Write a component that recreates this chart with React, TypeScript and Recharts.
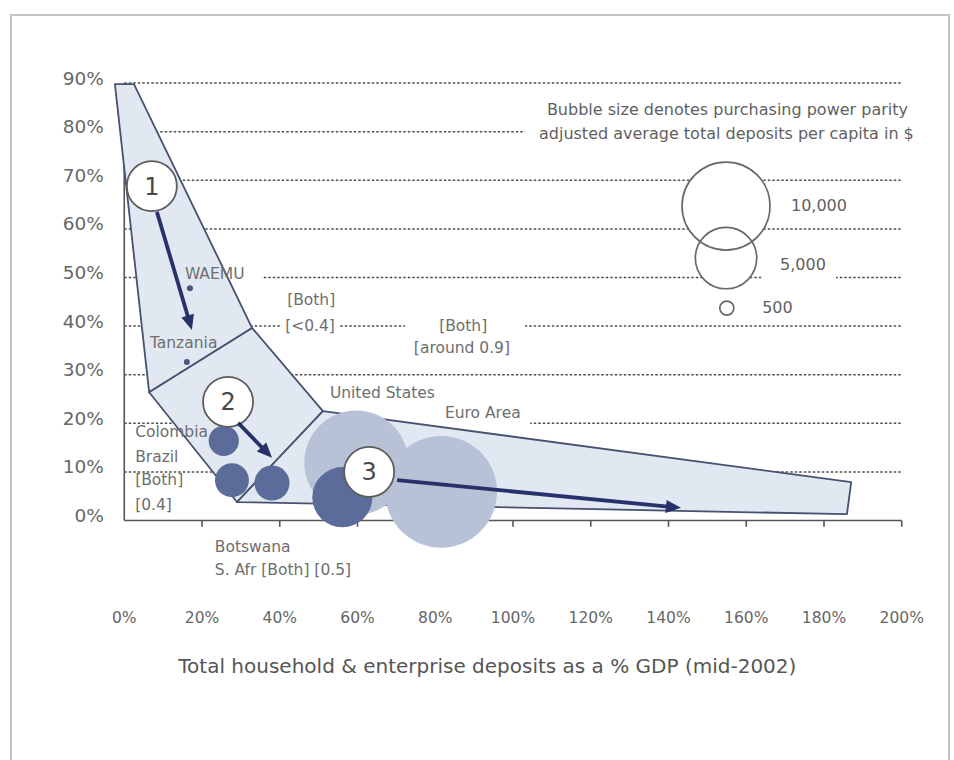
import React from 'react';
import { ScatterChart, Scatter, XAxis, YAxis, ZAxis } from 'recharts';

// ---------- axis ticks ----------
const xTicks = [0, 20, 40, 60, 80, 100, 120, 140, 160, 180, 200];
const yTicks = [0, 10, 20, 30, 40, 50, 60, 70, 80, 90];
const gridLevels = [10, 20, 30, 40, 50, 60, 70, 80, 90];

// ---------- funnel regions (x: deposits % GDP, y: share) ----------
const region1 = [
  { x: -2.4, y: 89.8 },
  { x: 2.5, y: 89.8 },
  { x: 32.9, y: 39.6 },
  { x: 6.4, y: 26.4 },
];
const region2 = [
  { x: 6.4, y: 26.4 },
  { x: 32.9, y: 39.6 },
  { x: 51.1, y: 22.5 },
  { x: 29.0, y: 3.8 },
];
const region3 = [
  { x: 51.1, y: 22.5 },
  { x: 187.0, y: 7.9 },
  { x: 185.9, y: 1.3 },
  { x: 29.0, y: 3.8 },
];

// ---------- bubbles (z: PPP deposits per capita, $) ----------
const darkBubbles = [
  { name: 'Colombia', x: 25.6, y: 16.4, z: 1400 },
  { name: 'Brazil', x: 27.7, y: 8.3, z: 1700 },
  { name: 'Botswana / S. Afr', x: 38.0, y: 7.7, z: 1800 },
  { name: 'Other', x: 56.1, y: 4.8, z: 4800 },
];
const lightBubbles = [
  { name: 'United States', x: 59.7, y: 11.9, z: 13900 },
  { name: 'Euro Area', x: 81.5, y: 5.9, z: 16000 },
];
const sizeKey = [
  { x: 154.8, y: 64.7, z: 10000 },
  { x: 154.8, y: 54.0, z: 5000 },
  { x: 155.0, y: 43.7, z: 500 },
];

// ---------- stage markers, arrows, dots ----------
const stageMarkers = [
  { x: 7.1, y: 68.8, label: '1' },
  { x: 26.7, y: 24.4, label: '2' },
  { x: 63.0, y: 10.0, label: '3' },
];
const arrow1 = [{ x: 8.4, y: 63.5 }, { x: 17.4, y: 39.2 }];
const arrow2 = [{ x: 29.3, y: 20.1 }, { x: 38.0, y: 12.9 }];
const arrow3 = [{ x: 70.2, y: 8.3 }, { x: 143.2, y: 2.6 }];
const smallDots = [
  { x: 16.9, y: 47.8 },
  { x: 16.1, y: 32.6 },
];

// ---------- text annotations ----------
const captionLines = [
  { x: 201.6, y: 83.4, text: 'Bubble size denotes purchasing power parity' },
  { x: 203.1, y: 78.5, text: 'adjusted average total deposits per capita in $' },
];
const sizeKeyLabels = [
  { x: 171.5, y: 63.7, text: '10,000' },
  { x: 168.7, y: 51.5, text: '5,000' },
  { x: 164.1, y: 42.7, text: '500' },
];
const leftLabels = [
  { x: 2.8, y: 17.2, text: 'Colombia' },
  { x: 2.8, y: 12.0, text: 'Brazil' },
  { x: 2.8, y: 7.3, text: '[Both]' },
  { x: 2.8, y: 2.2, text: '[0.4]' },
];
const otherLabels = [
  { x: 15.6, y: 49.7, text: 'WAEMU' },
  { x: 6.6, y: 35.5, text: 'Tanzania' },
  { x: 41.9, y: 44.3, text: '[Both]' },
  { x: 41.4, y: 39.0, text: '[<0.4]' },
  { x: 81.0, y: 39.0, text: '[Both]' },
  { x: 74.5, y: 34.5, text: '[around 0.9]' },
  { x: 52.9, y: 25.2, text: 'United States' },
  { x: 82.5, y: 21.1, text: 'Euro Area' },
  { x: 23.3, y: -6.5, text: 'Botswana' },
  { x: 23.3, y: -11.2, text: 'S. Afr [Both] [0.5]' },
];
const axisTitle = [
  { x: 93.4, y: -31.4, text: 'Total household & enterprise deposits as a % GDP (mid-2002)' },
];

// white boxes behind text that interrupt the dotted grid
const gapBoxes = [
  { x0: 103.1, x1: 204.7, y0: 77.1, y1: 87.3 },
  { x0: 26.2, x1: 35.4, y0: 48.3, y1: 52.4 },
  { x0: 40.6, x1: 55.5, y0: 37.9, y1: 47.8 },
  { x0: 72.2, x1: 103.1, y0: 33.4, y1: 42.9 },
  { x0: 164.1, x1: 183.1, y0: 48.7, y1: 55.2 },
  { x0: 69.6, x1: 104.4, y0: 19.0, y1: 24.4 },
];

// ---------- derived point lists ----------
const gridPoints = gridLevels.flatMap((v) => [{ x: 0, y: v }, { x: 200, y: v }]);
const axisPoints = [
  { x: 0, y: 0 }, { x: 200, y: 0 },
  { x: 0, y: 0 }, { x: 0, y: 90 },
  ...xTicks.filter((v) => v > 0).flatMap((v) => [{ x: v, y: 0 }, { x: v, y: -1.3 }]),
];
const boxPoints = gapBoxes.flatMap((b) => [
  { x: b.x0, y: b.y0 }, { x: b.x1, y: b.y0 }, { x: b.x1, y: b.y1 }, { x: b.x0, y: b.y1 },
]);

// ---------- styles ----------
const FONT = "'DejaVu Sans', 'Liberation Sans', sans-serif";
const TEXT = '#6e6e6e';
const POLY_FILL = '#e2e8f1';
const POLY_STROKE = '#475170';
const DARK = '#5b6b9a';
const LIGHT = '#b7c2d7';
const NAVY = '#27316a';

type P = { x: number; y: number };

const segPath = (pts: P[]) => {
  let d = '';
  for (let i = 0; i + 1 < pts.length; i += 2) {
    d += `M${pts[i].x},${pts[i].y}L${pts[i + 1].x},${pts[i + 1].y}`;
  }
  return d;
};
const polyPath = (pts: P[]) => 'M' + pts.map((p) => `${p.x},${p.y}`).join('L') + 'Z';

const noShape = () => <g />;

const gridLine = (lp: any) => (
  <path d={segPath(lp.points)} stroke="#4f4f4f" strokeWidth={1.5} strokeDasharray="2.5 2" fill="none" />
);
const axisLine = (lp: any) => (
  <path d={segPath(lp.points)} stroke="#555" strokeWidth={1.6} fill="none" />
);
const boxLine = (lp: any) => {
  const pts: P[] = lp.points;
  const out = [];
  for (let i = 0; i + 3 < pts.length; i += 4) {
    out.push(<path key={i} d={polyPath(pts.slice(i, i + 4))} fill="#ffffff" stroke="none" />);
  }
  return <g>{out}</g>;
};
const regionLine = (lp: any) => (
  <path d={polyPath(lp.points)} fill={POLY_FILL} stroke={POLY_STROKE} strokeWidth={1.8} strokeLinejoin="round" />
);
const arrowLine = (lp: any) => {
  const [a, b] = lp.points as P[];
  const dx = b.x - a.x;
  const dy = b.y - a.y;
  const len = Math.sqrt(dx * dx + dy * dy) || 1;
  const ux = dx / len;
  const uy = dy / len;
  const head = 15;
  const half = 6.5;
  const bx = b.x - ux * head;
  const by = b.y - uy * head;
  return (
    <g>
      <line x1={a.x} y1={a.y} x2={bx + ux * 2} y2={by + uy * 2} stroke={NAVY} strokeWidth={3.8} />
      <polygon
        points={`${b.x},${b.y} ${bx - uy * half},${by + ux * half} ${bx + uy * half},${by - ux * half}`}
        fill={NAVY}
      />
    </g>
  );
};

const bubbleRadius = (p: any) => {
  if (Number.isFinite(p.width)) return p.width / 2;
  return Math.sqrt(Math.max(p.size || 0, 0) / Math.PI);
};
const darkShape = (p: any) => <circle cx={p.cx} cy={p.cy} r={bubbleRadius(p)} fill={DARK} />;
const lightShape = (p: any) => <circle cx={p.cx} cy={p.cy} r={bubbleRadius(p)} fill={LIGHT} />;
const keyFillShape = (p: any) => <circle cx={p.cx} cy={p.cy} r={bubbleRadius(p)} fill="#ffffff" />;
const keyRingShape = (p: any) => (
  <circle cx={p.cx} cy={p.cy} r={bubbleRadius(p)} fill="none" stroke="#686868" strokeWidth={1.7} />
);
const markerShape = (p: any) => (
  <g>
    <circle cx={p.cx} cy={p.cy} r={25} fill="#ffffff" stroke="#5c5c5c" strokeWidth={1.8} />
    <text x={p.cx} y={p.cy + 8.5} textAnchor="middle" fontFamily={FONT} fontSize={24} fill="#484848">
      {p.payload.label}
    </text>
  </g>
);
const dotShape = (p: any) => <circle cx={p.cx} cy={p.cy} r={3} fill="#4a5580" />;

const textShape = (anchor: string, size: number, color: string) => (p: any) => (
  <text x={p.cx} y={p.cy} textAnchor={anchor} fontFamily={FONT} fontSize={size} fill={color}>
    {p.payload.text}
  </text>
);

const YTick = (props: any) => (
  <text x={props.x} y={props.y + 1.5} textAnchor="end" fontFamily={FONT} fontSize={18.5} fill="#666">
    {`${props.payload.value}%`}
  </text>
);
const XTick = (props: any) => (
  <text x={props.x} y={props.y - 72.7} textAnchor="middle" fontFamily={FONT} fontSize={15.5} fill="#666">
    {`${props.payload.value}%`}
  </text>
);

export default function App() {
  return (
    <div style={{ position: 'absolute', left: 0, top: 0, width: 954, height: 760, background: '#ffffff', overflow: 'hidden' }}>
      <div
        style={{
          position: 'absolute',
          left: 10,
          top: 14,
          width: 940,
          height: 780,
          border: '2px solid #c4c4c4',
          boxSizing: 'border-box',
        }}
      />
      <div style={{ position: 'absolute', left: 0, top: 0 }}>
        <ScatterChart width={954} height={760} margin={{ top: 34.5, right: 32.81, bottom: 34.54, left: 44.81 }}>
          <XAxis
            type="number"
            dataKey="x"
            domain={[-5, 205]}
            ticks={xTicks}
            interval={0}
            allowDataOverflow
            axisLine={false}
            tickLine={false}
            tickSize={0}
            tickMargin={0}
            height={30}
            tick={<XTick />}
          />
          <YAxis
            type="number"
            dataKey="y"
            domain={[-36, 100]}
            ticks={yTicks}
            interval={0}
            allowDataOverflow
            axisLine={false}
            tickLine={false}
            tickSize={0}
            tickMargin={1}
            width={60}
            tick={<YTick />}
          />
          <ZAxis type="number" dataKey="z" domain={[250, 20000]} range={[0, 12320]} />

          <Scatter data={gridPoints} line={gridLine} shape={noShape} isAnimationActive={false} />
          <Scatter data={boxPoints} line={boxLine} shape={noShape} isAnimationActive={false} />
          <Scatter data={axisPoints} line={axisLine} shape={noShape} isAnimationActive={false} />
          <Scatter data={region1} line={regionLine} shape={noShape} isAnimationActive={false} />
          <Scatter data={region2} line={regionLine} shape={noShape} isAnimationActive={false} />
          <Scatter data={region3} line={regionLine} shape={noShape} isAnimationActive={false} />
          <Scatter data={leftLabels} shape={textShape('start', 15.5, TEXT)} isAnimationActive={false} />
          <Scatter data={lightBubbles} shape={lightShape} isAnimationActive={false} />
          <Scatter data={darkBubbles} shape={darkShape} isAnimationActive={false} />
          <Scatter data={sizeKey} shape={keyFillShape} isAnimationActive={false} />
          <Scatter data={sizeKey} shape={keyRingShape} isAnimationActive={false} />
          <Scatter data={smallDots} shape={dotShape} isAnimationActive={false} />
          <Scatter data={stageMarkers} shape={markerShape} isAnimationActive={false} />
          <Scatter data={arrow1} line={arrowLine} shape={noShape} isAnimationActive={false} />
          <Scatter data={arrow2} line={arrowLine} shape={noShape} isAnimationActive={false} />
          <Scatter data={arrow3} line={arrowLine} shape={noShape} isAnimationActive={false} />
          <Scatter data={otherLabels} shape={textShape('start', 15.5, TEXT)} isAnimationActive={false} />
          <Scatter data={captionLines} shape={textShape('end', 16, '#5f5f5f')} isAnimationActive={false} />
          <Scatter data={sizeKeyLabels} shape={textShape('start', 16, '#5f5f5f')} isAnimationActive={false} />
          <Scatter data={axisTitle} shape={textShape('middle', 20, '#555')} isAnimationActive={false} />
        </ScatterChart>
      </div>
    </div>
  );
}
